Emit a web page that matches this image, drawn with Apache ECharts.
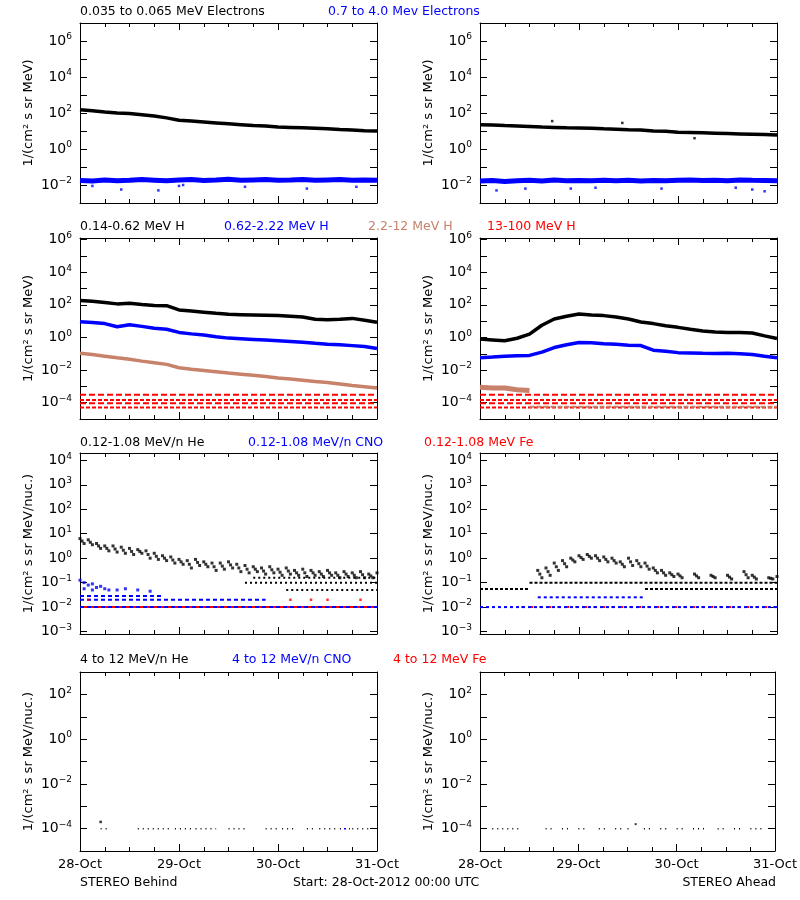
<!DOCTYPE html>
<html><head><meta charset="utf-8">
<script src="https://cdn.jsdelivr.net/npm/echarts@6/dist/echarts.min.js"></script>
<style>html,body{margin:0;padding:0;background:#fff}#c{width:800px;height:900px}</style>
</head><body><div id="c"></div>
<script>
// ---- data (log10 of flux), hours since 28-Oct-2012 00:00 ----
const xTickLabels = ['28-Oct','29-Oct','30-Oct','31-Oct'];
const hours3 = [0,3,6,9,12,15,18,21,24,27,30,33,36,39,42,45,48,51,54,57,60,63,66,69,72];
// Row 1: electrons
const eLowBehind = [2.18,2.12,2.05,2.0,1.97,1.9,1.83,1.73,1.6,1.55,1.5,1.45,1.4,1.35,1.3,1.28,1.22,1.2,1.18,1.15,1.12,1.08,1.05,1.02,1.0];
const eHighBehind = [-1.75,-1.78,-1.72,-1.76,-1.74,-1.7,-1.73,-1.77,-1.72,-1.7,-1.75,-1.72,-1.68,-1.74,-1.72,-1.7,-1.73,-1.72,-1.7,-1.74,-1.72,-1.7,-1.73,-1.72,-1.74];
const eHighBehindOut = [[3,-2.05],[10,-2.25],[19,-2.3],[24,-2.05],[25,-2.0],[40,-2.1],[55,-2.2],[67,-2.1]];
const eLowAhead = [1.35,1.33,1.3,1.28,1.25,1.22,1.2,1.18,1.17,1.15,1.12,1.1,1.07,1.05,1.0,0.98,0.93,0.92,0.9,0.88,0.86,0.84,0.82,0.8,0.78];
const eLowAheadOut = [[17.5,1.55],[34.5,1.45],[52,0.6]];
const eHighAhead = [-1.78,-1.75,-1.8,-1.76,-1.74,-1.78,-1.72,-1.76,-1.75,-1.77,-1.73,-1.76,-1.74,-1.78,-1.75,-1.76,-1.74,-1.72,-1.75,-1.73,-1.76,-1.72,-1.74,-1.75,-1.76];
const eHighAheadOut = [[4,-2.3],[11,-2.2],[22,-2.2],[28,-2.15],[44,-2.2],[62,-2.15],[66,-2.25],[69,-2.35]];
// Row 2: protons
const p1Behind = [2.27,2.22,2.15,2.06,2.1,2.02,1.96,1.95,1.69,1.62,1.55,1.48,1.42,1.4,1.38,1.36,1.34,1.3,1.25,1.12,1.09,1.12,1.17,1.05,0.93];
const p2Behind = [0.97,0.92,0.85,0.66,0.78,0.68,0.56,0.5,0.31,0.22,0.15,0.05,-0.04,-0.08,-0.12,-0.16,-0.2,-0.25,-0.3,-0.36,-0.41,-0.45,-0.5,-0.55,-0.68];
const p3Behind = [-0.97,-1.05,-1.15,-1.25,-1.34,-1.45,-1.55,-1.65,-1.86,-1.95,-2.02,-2.1,-2.18,-2.25,-2.32,-2.4,-2.49,-2.55,-2.62,-2.7,-2.76,-2.85,-2.95,-3.02,-3.1];
const p1Ahead = [-0.1,-0.15,-0.2,-0.05,0.2,0.75,1.13,1.3,1.44,1.38,1.34,1.25,1.13,0.95,0.85,0.72,0.62,0.5,0.4,0.33,0.31,0.3,0.27,0.1,-0.06];
const p2Ahead = [-1.24,-1.2,-1.15,-1.12,-1.1,-0.9,-0.62,-0.45,-0.31,-0.33,-0.38,-0.42,-0.47,-0.5,-0.78,-0.85,-0.93,-0.95,-0.97,-0.98,-0.97,-1.0,-1.05,-1.15,-1.24];
const p3AheadEarlyHours = [0,3,6,9,12];
const p3AheadEarly = [-3.05,-3.1,-3.1,-3.2,-3.25];
const p3AheadLevel = -4.25;
const p4Levels = [-3.52,-3.83,-4.04,-4.3];
// Row 3: low-energy heavy ions
const heHours = [0,2,4,6,8,10,12,14,16,18,20,22,24,26,28,30,32,34,36,38,40,42,44,46,48,50,52,54,56,58,60,62,64,66,68,70,72];
const heBehindHi = [0.8,0.75,0.6,0.5,0.5,0.45,0.4,0.35,0.3,0.2,0.1,0.05,-0.05,-0.1,-0.05,-0.15,-0.2,-0.2,-0.15,-0.25,-0.3,-0.35,-0.4,-0.35,-0.45,-0.4,-0.5,-0.45,-0.5,-0.55,-0.5,-0.6,-0.55,-0.6,-0.55,-0.65,-0.6];
const heBehindLo = [0.6,0.55,0.4,0.3,0.25,0.2,0.15,0.2,0.0,-0.05,-0.1,-0.2,-0.25,-0.4,-0.3,-0.35,-0.5,-0.45,-0.4,-0.55,-0.6,-0.55,-0.65,-0.6,-0.7,-0.65,-0.7,-0.75,-0.7,-0.75,-0.7,-0.8,-0.75,-0.8,-0.8,-0.8,-0.8];
const heBehindLevels = [[42,72,-0.8],[40,72,-1.0],[50,72,-1.3]];
const cnoBehindEarly = [[0,-0.9],[1,-1.0],[2,-1.1],[3,-1.05],[4,-1.2],[5,-1.15],[6,-1.25],[7,-1.3],[9,-1.3],[11,-1.25],[14,-1.3],[17,-1.35],[1,-1.25],[3,-1.3]];
const cnoBehindLevels = [[0,20,-1.55],[0,45,-1.7],[0,72,-2.0]];
const feBehindLevels = [[0,72,-2.0]];
const feBehindPts = [[2,-1.7],[51,-1.7],[56,-1.7],[60,-1.7],[68,-1.7]];
const heAheadHours = [14,16,18,20,22,24,26,28,30,32,34,36,38,40,42,44,46,48,52,56,60,64,66,70,72];
const heAheadHi = [-0.5,-0.4,-0.2,-0.1,0,0.1,0.15,0.1,0.05,0,-0.15,0,-0.1,-0.2,-0.4,-0.5,-0.6,-0.65,-0.65,-0.7,-0.7,-0.55,-0.7,-0.8,-0.75];
const heAheadLo = [-0.8,-0.7,-0.5,-0.35,-0.15,-0.05,0,-0.1,-0.15,-0.2,-0.35,-0.3,-0.35,-0.45,-0.6,-0.7,-0.75,-0.8,-0.8,-0.8,-0.85,-0.8,-0.85,-0.85,-0.85];
const heAheadLevels = [[0,12,-1.26],[40,72,-1.26],[12,72,-1.0]];
const cnoAheadLevels = [[14,40,-1.6],[0,72,-2.0]];
const feAheadLevels = [[10,72,-2.0]];
// Row 4: high-energy heavy ions
const he4BehindSegs = [[5,7],[14,22],[23,27],[28,33],[36,40],[45,48],[49,52],[55,57],[58,62],[63,65],[66,70]];
const he4BehindPts = [[5,-3.7]];
const cno4BehindSegs = [[64,66]];
const he4AheadSegs = [[3,10],[16,18],[20,22],[24,26],[29,31],[33,35],[36,37],[40,42],[44,46],[48,50],[52,55],[58,60],[62,64],[66,69]];
const he4AheadPts = [[38,-3.8]];
const ion4Level = -4.0;

// ---- layout ----
const C = {k:'#000000', b:'#0000ff', br:'#c8826a', r:'#ff0000'};
const FONT = 'DejaVu Sans';
const rows = [
  {top:23,h:180,min:-3,max:7,labels:[-2,0,2,4,6],ticks:[-2,-1,0,1,2,3,4,5,6],name:'1/(cm² s sr MeV)'},
  {top:238,h:181,min:-5,max:6.1,labels:[-4,-2,0,2,4,6],ticks:[-4,-3,-2,-1,0,1,2,3,4,5,6],name:'1/(cm² s sr MeV)'},
  {top:453,h:181,min:-3.1,max:4.3,labels:[-3,-2,-1,0,1,2,3,4],ticks:[-3,-2,-1,0,1,2,3,4],name:'1/(cm² s sr MeV/nuc.)'},
  {top:672,h:179,min:-5,max:3,labels:[-4,-2,0,2],ticks:[-4,-3,-2,-1,0,1,2],name:'1/(cm² s sr MeV/nuc.)'}
];
const cols = [80,480];
const grid=[], xAxis=[], yAxis=[], series=[];
const sup = v => '{b|10}{s|' + (v<0?'−'+(-v):v) + '}';
rows.forEach((r,ri)=>cols.forEach((l,ci)=>{
  const gi = grid.length;
  grid.push({left:l,top:r.top,width:297,height:r.h,containLabel:false});
  const xa = {type:'value',gridIndex:gi,min:0,max:72,interval:24,
    axisLine:{show:true,onZero:false,lineStyle:{color:'#000',width:1}},
    axisTick:{inside:true,length:7,lineStyle:{color:'#000'}},
    minorTick:{show:true,splitNumber:4,length:4,lineStyle:{color:'#000'}},
    splitLine:{show:false},
    axisLabel:{show:ri===3,margin:7,color:'#000',fontFamily:FONT,fontSize:13,formatter:v=>xTickLabels[v/24]}};
  xAxis.push(Object.assign({},xa,{position:'bottom'}));
  xAxis.push(Object.assign({},xa,{position:'top',axisLabel:{show:false}}));
  const ya = {type:'value',gridIndex:gi,min:r.min,max:r.max,
    axisLine:{show:true,onZero:false,lineStyle:{color:'#000',width:1}},
    axisTick:{inside:true,length:7,customValues:r.ticks,lineStyle:{color:'#000'}},
    splitLine:{show:false}};
  yAxis.push(Object.assign({},ya,{position:'left',name:r.name,nameLocation:'middle',nameGap:45,nameRotate:90,
    nameTextStyle:{color:'#000',fontFamily:FONT,fontSize:13},
    axisLabel:{customValues:r.labels,margin:8,formatter:sup,
      rich:{b:{fontFamily:FONT,fontSize:14,color:'#000'},s:{fontFamily:FONT,fontSize:9,color:'#000',verticalAlign:'top',padding:[0,0,8,0]}}}}));
  yAxis.push(Object.assign({},ya,{position:'right',axisLabel:{show:false}}));
}));
const ax = gi => ({xAxisIndex:gi*2,yAxisIndex:gi*2});
function band(gi,hs,vals,color,w){series.push(Object.assign({type:'line',data:hs.map((h,i)=>[h,vals[i]]),showSymbol:false,silent:true,
  lineStyle:{color,width:w},z:3},ax(gi)));}
function pts(gi,data,color,size){series.push(Object.assign({type:'scatter',data,symbol:'rect',symbolSize:size||2.5,silent:true,itemStyle:{color},z:4},ax(gi)));}
function levels(gi,lv,color,dash){lv.forEach(([a,b,v])=>series.push(Object.assign({type:'line',data:[[a,v],[b,v]],showSymbol:false,silent:true,
  lineStyle:{color,width:2,type:dash||[3,3]},z:2},ax(gi))));}
function segs(gi,sg,v,color){sg.forEach(([a,b])=>series.push(Object.assign({type:'line',data:[[a,v],[b,v]],showSymbol:false,silent:true,
  lineStyle:{color,width:1.5,type:[1,4]},z:2},ax(gi))));}
// Row 1
band(0,hours3,eLowBehind,C.k,3.5); band(0,hours3,eHighBehind,C.b,5); pts(0,eHighBehindOut,C.b);
band(1,hours3,eLowAhead,C.k,3.5); pts(1,eLowAheadOut,C.k); band(1,hours3,eHighAhead,C.b,5); pts(1,eHighAheadOut,C.b);
// Row 2
p4Levels.forEach((v,i)=>{levels(2,[[0,72,v]],C.r,i%2?[4,2]:[6,3]); levels(3,[[0,72,v]],C.r,i%2?[4,2]:[6,3]);});
band(2,hours3,p1Behind,C.k,3.5); band(2,hours3,p2Behind,C.b,3.5); band(2,hours3,p3Behind,C.br,3.5);
band(3,hours3,p1Ahead,C.k,3.5); band(3,hours3,p2Ahead,C.b,3.5);
band(3,p3AheadEarlyHours,p3AheadEarly,C.br,5); levels(3,[[12,72,p3AheadLevel]],C.br,[5,2]);
// Row 3
levels(4,feBehindLevels,C.r,'solid'); levels(4,cnoBehindLevels,C.b,[4,3]); pts(4,feBehindPts,C.r);
levels(4,heBehindLevels,C.k,[2,3]);
pts(4,heHours.map((h,i)=>[h,heBehindHi[i]]),C.k,3); pts(4,heHours.map((h,i)=>[h+1,heBehindLo[i]]),C.k,3);
pts(4,heHours.map((h,i)=>[h+0.5,(heBehindHi[i]+heBehindLo[i])/2]),C.k,3);
pts(4,cnoBehindEarly,C.b,3);
levels(5,feAheadLevels,C.r,[3,6]); levels(5,cnoAheadLevels,C.b,[3,3]);
levels(5,heAheadLevels,C.k,[3,2]);
pts(5,heAheadHours.map((h,i)=>[h,heAheadHi[i]]),C.k,3); pts(5,heAheadHours.map((h,i)=>[h+1,heAheadLo[i]]),C.k,3);
pts(5,heAheadHours.map((h,i)=>[h+0.5,(heAheadHi[i]+heAheadLo[i])/2]),C.k,3);
// Row 4
segs(6,he4BehindSegs,ion4Level,C.k); segs(6,cno4BehindSegs,ion4Level,C.b); pts(6,he4BehindPts,C.k,2.5);
segs(7,he4AheadSegs,ion4Level,C.k); pts(7,he4AheadPts,C.k,2);

const txt=(x,y,t,color,align)=>({type:'text',left:align==='right'?undefined:x,right:align==='right'?800-x:undefined,top:y,
  style:{text:t,fill:color,font:'12.5px "DejaVu Sans"'}});
const graphic=[
  txt(80,5,'0.035 to 0.065 MeV Electrons',C.k), txt(328,5,'0.7 to 4.0 Mev Electrons',C.b),
  txt(80,220,'0.14-0.62 MeV H',C.k), txt(224,220,'0.62-2.22 MeV H',C.b), txt(368,220,'2.2-12 MeV H',C.br), txt(487,220,'13-100 MeV H',C.r),
  txt(80,436,'0.12-1.08 MeV/n He',C.k), txt(248,436,'0.12-1.08 MeV/n CNO',C.b), txt(424,436,'0.12-1.08 MeV Fe',C.r),
  txt(80,653,'4 to 12 MeV/n He',C.k), txt(232,653,'4 to 12 MeV/n CNO',C.b), txt(393,653,'4 to 12 MeV Fe',C.r),
  txt(80,876,'STEREO Behind',C.k), txt(293,876,'Start: 28-Oct-2012 00:00 UTC',C.k), txt(776,876,'STEREO Ahead',C.k,'right')
];
const chart=echarts.init(document.getElementById('c'));
chart.setOption({animation:false,backgroundColor:'#fff',grid,xAxis,yAxis,series,graphic});
</script></body></html>
